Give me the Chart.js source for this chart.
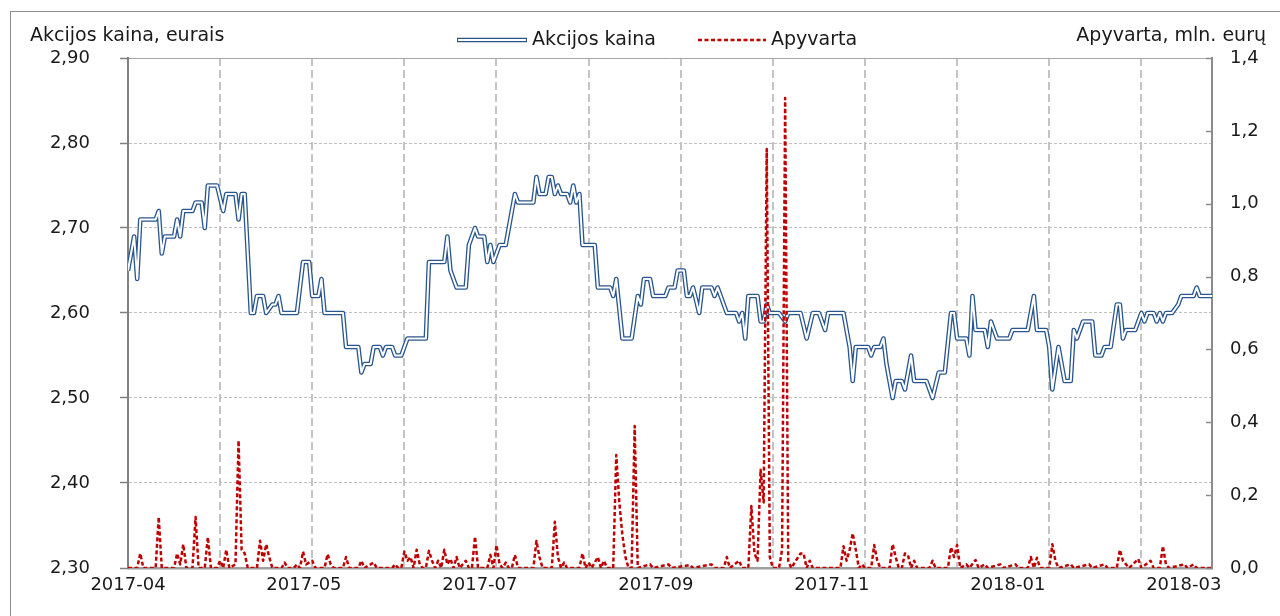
<!DOCTYPE html>
<html lang="lt">
<head>
<meta charset="utf-8">
<title>Akcijos kaina ir apyvarta</title>
<script src="https://cdn.jsdelivr.net/npm/chart.js@4.4.1/dist/chart.umd.min.js"></script>
<style>
  html, body { margin: 0; padding: 0; background: #fff; overflow: hidden; }
  #wrap { position: relative; width: 1280px; height: 616px; }
</style>
</head>
<body>
<div id="wrap"><canvas id="stockChart" width="1280" height="616"></canvas></div>
<script>
// Days since the start of the period (2017-04) and the closing price on that day
const priceDays = [
    0, 2, 3, 4, 9, 10, 11, 12, 15, 16,
    17, 18, 21, 22, 24, 25, 26, 29, 31, 32,
    35, 36, 37, 38, 40, 41, 42, 44, 45, 47,
    48, 49, 50, 55, 57, 59, 60, 62, 63, 64,
    70, 71, 75, 76, 77, 79, 80, 82, 83, 84,
    86, 87, 89, 91, 97, 98, 103, 104, 105, 107,
    110, 111, 112, 113, 114, 116, 117, 118, 119, 121,
    123, 124, 126, 127, 132, 133, 134, 136, 137, 138,
    139, 140, 141, 143, 144, 145, 146, 147, 148, 152,
    153, 157, 158, 159, 161, 164, 166, 167, 168, 170,
    171, 175, 176, 178, 179, 181, 182, 183, 184, 186,
    187, 190, 191, 192, 193, 195, 198, 199, 200, 201,
    202, 205, 206, 207, 208, 209, 212, 214, 215, 219,
    221, 223, 225, 227, 228, 233, 235, 236, 237, 241,
    242, 243, 245, 246, 247, 249, 250, 252, 253, 255,
    256, 260, 262, 264, 266, 268, 269, 270, 273, 274,
    275, 276, 279, 280, 281, 282, 283, 287, 288, 293,
    295, 296, 299, 300, 301, 303, 305, 307, 308, 309,
    311, 314, 315, 317, 318, 320, 322, 323, 324, 325,
    328, 330, 331, 332, 334, 335, 336, 337, 338, 340,
    342, 343, 347, 348, 349, 353
];
const priceValues = [
    2.65, 2.69, 2.64, 2.71, 2.71, 2.72, 2.67, 2.69, 2.69, 2.71,
    2.69, 2.72, 2.72, 2.73, 2.73, 2.70, 2.75, 2.75, 2.72, 2.74,
    2.74, 2.71, 2.74, 2.74, 2.60, 2.60, 2.62, 2.62, 2.60, 2.61,
    2.61, 2.62, 2.60, 2.60, 2.66, 2.66, 2.62, 2.62, 2.64, 2.60,
    2.60, 2.56, 2.56, 2.53, 2.54, 2.54, 2.56, 2.56, 2.55, 2.56,
    2.56, 2.55, 2.55, 2.57, 2.57, 2.66, 2.66, 2.69, 2.65, 2.63,
    2.63, 2.68, 2.69, 2.70, 2.69, 2.69, 2.66, 2.68, 2.66, 2.68,
    2.68, 2.70, 2.74, 2.73, 2.73, 2.76, 2.74, 2.74, 2.76, 2.76,
    2.74, 2.75, 2.74, 2.74, 2.73, 2.75, 2.73, 2.74, 2.68, 2.68,
    2.63, 2.63, 2.62, 2.64, 2.57, 2.57, 2.62, 2.61, 2.64, 2.64,
    2.62, 2.62, 2.63, 2.63, 2.65, 2.65, 2.62, 2.62, 2.63, 2.60,
    2.63, 2.63, 2.62, 2.63, 2.62, 2.60, 2.60, 2.59, 2.60, 2.57,
    2.62, 2.62, 2.59, 2.59, 2.61, 2.60, 2.60, 2.59, 2.60, 2.60,
    2.57, 2.60, 2.60, 2.58, 2.60, 2.60, 2.56, 2.52, 2.56, 2.56,
    2.55, 2.56, 2.56, 2.57, 2.54, 2.50, 2.52, 2.52, 2.51, 2.55,
    2.52, 2.52, 2.50, 2.53, 2.53, 2.60, 2.60, 2.57, 2.57, 2.55,
    2.62, 2.58, 2.58, 2.56, 2.59, 2.58, 2.57, 2.57, 2.58, 2.58,
    2.62, 2.58, 2.58, 2.56, 2.51, 2.56, 2.52, 2.52, 2.58, 2.57,
    2.59, 2.59, 2.55, 2.55, 2.56, 2.56, 2.61, 2.61, 2.57, 2.58,
    2.58, 2.60, 2.59, 2.60, 2.60, 2.59, 2.60, 2.59, 2.60, 2.60,
    2.61, 2.62, 2.62, 2.63, 2.62, 2.62
];

// Turnover (mln. EUR) by day
const volumeDays = [
    0, 3, 4, 5, 9, 10, 11, 15, 16, 17,
    18, 19, 21, 22, 23, 25, 26, 27, 29, 30,
    31, 32, 33, 35, 36, 37, 38, 39, 42, 43,
    44, 45, 46, 47, 50, 51, 52, 54, 55, 56,
    57, 58, 60, 61, 64, 65, 66, 67, 70, 71,
    72, 75, 76, 77, 80, 81, 86, 87, 88, 89,
    90, 91, 92, 93, 94, 95, 96, 97, 98, 99,
    100, 101, 102, 103, 104, 105, 106, 107, 108, 110,
    111, 112, 113, 114, 117, 118, 119, 120, 121, 122,
    123, 124, 125, 126, 127, 132, 133, 134, 135, 138,
    139, 140, 141, 142, 143, 147, 148, 149, 150, 151,
    153, 154, 155, 156, 158, 159, 160, 161, 162, 163,
    164, 165, 166, 170, 171, 176, 177, 183, 184, 190,
    191, 194, 195, 196, 199, 200, 202, 203, 204, 205,
    206, 207, 208, 209, 210, 212, 213, 214, 215, 216,
    219, 220, 221, 222, 223, 232, 233, 234, 235, 236,
    237, 238, 239, 240, 242, 243, 244, 245, 248, 249,
    250, 251, 252, 253, 254, 255, 256, 257, 261, 262,
    263, 267, 268, 269, 270, 271, 273, 274, 276, 277,
    279, 280, 284, 285, 289, 290, 293, 294, 295, 296,
    297, 300, 301, 302, 303, 307, 308, 313, 314, 318,
    319, 322, 323, 324, 325, 326, 329, 330, 333, 334,
    336, 337, 338, 339, 344, 345, 347, 348, 353
];
const volumeValues = [
    0, 0, 0.04, 0, 0, 0.14, 0, 0, 0.04, 0.01,
    0.065, 0, 0, 0.14, 0, 0, 0.085, 0, 0, 0.02,
    0, 0.05, 0, 0.01, 0.35, 0.05, 0.04, 0, 0, 0.075,
    0.02, 0.065, 0.03, 0, 0, 0.015, 0, 0, 0.01, 0,
    0.045, 0.01, 0.02, 0, 0, 0.038, 0.01, 0, 0, 0.03,
    0, 0, 0.02, 0, 0.015, 0, 0, 0.01, 0, 0,
    0.045, 0.02, 0.03, 0, 0.05, 0.01, 0, 0, 0.047, 0.02,
    0, 0.02, 0, 0.05, 0.01, 0.025, 0, 0.03, 0, 0.02,
    0, 0, 0.086, 0, 0, 0.036, 0, 0.063, 0.01, 0,
    0.015, 0, 0, 0.036, 0, 0, 0.074, 0.03, 0, 0,
    0.127, 0.03, 0, 0.015, 0, 0, 0.04, 0, 0.015, 0,
    0.03, 0, 0.02, 0, 0, 0.31, 0.18, 0.09, 0.03, 0,
    0, 0.39, 0, 0.01, 0, 0.01, 0, 0.008, 0, 0.01,
    0, 0, 0.03, 0, 0.02, 0, 0, 0.17, 0.04, 0.02,
    0.27, 0.18, 1.15, 0.03, 0, 0, 0.05, 1.29, 0.02, 0,
    0.04, 0.04, 0, 0.02, 0, 0, 0.06, 0.02, 0.05, 0.095,
    0.05, 0, 0.01, 0, 0, 0.063, 0.02, 0, 0, 0.065,
    0.03, 0, 0, 0.04, 0.035, 0, 0.02, 0, 0, 0.02,
    0, 0, 0.057, 0.03, 0.063, 0, 0.01, 0, 0.022, 0,
    0.01, 0, 0.01, 0, 0.01, 0, 0, 0.03, 0, 0.028,
    0, 0, 0.065, 0.02, 0, 0.01, 0, 0.01, 0, 0.01,
    0, 0, 0.05, 0.02, 0.01, 0, 0.025, 0, 0.02, 0,
    0, 0.06, 0.01, 0, 0.01, 0, 0.01, 0, 0
];

// Axes
const dayRange = [0, 353];
const gridDays = [30, 60, 90, 120, 150, 180, 210, 240, 270, 300, 330];
const labelDays = [0, 57.3, 114.6, 171.9, 229.2, 286.5, 343.8];
const xTickLabels = ['2017-04', '2017-05', '2017-07', '2017-09', '2017-11', '2018-01', '2018-03'];
const priceTicks = [2.3, 2.4, 2.5, 2.6, 2.7, 2.8, 2.9];
const volumeTicks = [0, 0.2, 0.4, 0.6, 0.8, 1.0, 1.2, 1.4];

const leftTitle = 'Akcijos kaina, eurais';
const rightTitle = 'Apyvarta, mln. eurų';
const priceLabel = 'Akcijos kaina';
const volumeLabel = 'Apyvarta';

const fontFamily = '"DejaVu Sans", Verdana, sans-serif';
const navy = '#2a568f';
const red = '#c00000';

Chart.defaults.font.family = fontFamily;
Chart.defaults.font.size = 18;
Chart.defaults.color = '#1a1a1a';

const toPoints = (days, values) => days.map((d, i) => ({ x: d, y: values[i] }));
const pricePoints = toPoints(priceDays, priceValues);
const allXTicks = [...gridDays, ...labelDays].sort((a, b) => a - b);

// Titles, legend, frame and the small inner ticks of the right axis
const decorPlugin = {
    id: 'decor',
    afterDraw(chart) {
        const c = chart.ctx;
        c.save();
        c.strokeStyle = '#8c8c8c';
        c.lineWidth = 1;
        c.strokeRect(10.5, 11.5, 1400, 800);

        c.font = '19px ' + fontFamily;
        c.fillStyle = '#1a1a1a';
        c.textBaseline = 'alphabetic';
        c.textAlign = 'left';
        c.fillText(leftTitle, 30, 41);
        c.textAlign = 'right';
        c.fillText(rightTitle, 1266, 41);

        // legend: double blue line
        c.lineCap = 'butt';
        c.strokeStyle = navy;
        c.lineWidth = 4.6;
        c.beginPath(); c.moveTo(457, 40); c.lineTo(527, 40); c.stroke();
        c.strokeStyle = '#ffffff';
        c.lineWidth = 2;
        c.beginPath(); c.moveTo(458, 40); c.lineTo(526, 40); c.stroke();
        // legend: dashed red line
        c.strokeStyle = red;
        c.lineWidth = 2.5;
        c.setLineDash([4, 2.5]);
        c.beginPath(); c.moveTo(698, 40); c.lineTo(766, 40); c.stroke();
        c.setLineDash([]);
        c.textAlign = 'left';
        c.fillText(priceLabel, 532, 45);
        c.fillText(volumeLabel, 771, 45);

        // right axis ticks point inwards
        const y1 = chart.scales.y1;
        c.strokeStyle = '#8c8c8c';
        c.lineWidth = 1.5;
        volumeTicks.forEach(v => {
            const py = Math.round(y1.getPixelForValue(v)) + 0.5;
            c.beginPath(); c.moveTo(y1.left - 6, py); c.lineTo(y1.left, py); c.stroke();
        });
        c.restore();
    }
};

const ctx = document.getElementById('stockChart').getContext('2d');
new Chart(ctx, {
    type: 'line',
    data: {
        datasets: [
            {
                label: volumeLabel,
                data: toPoints(volumeDays, volumeValues),
                yAxisID: 'y1',
                borderColor: red,
                borderWidth: 2.5,
                borderDash: [4, 2.5],
                borderJoinStyle: 'round',
                pointRadius: 0,
                tension: 0
            },
            {
                label: priceLabel,
                data: pricePoints,
                yAxisID: 'y',
                borderColor: '#ffffff',
                borderWidth: 2,
                borderJoinStyle: 'round',
                pointRadius: 0,
                tension: 0
            },
            {
                label: priceLabel,
                data: pricePoints,
                yAxisID: 'y',
                borderColor: navy,
                borderWidth: 4.6,
                borderJoinStyle: 'round',
                pointRadius: 0,
                tension: 0
            }
        ]
    },
    options: {
        responsive: false,
        animation: false,
        layout: { padding: { top: 58, left: 0, right: 0, bottom: 0 } },
        plugins: {
            legend: { display: false },
            tooltip: { enabled: false }
        },
        scales: {
            x: {
                type: 'linear',
                min: dayRange[0],
                max: dayRange[1],
                afterBuildTicks: scale => { scale.ticks = allXTicks.map(v => ({ value: v })); },
                afterFit: scale => { scale.height = 48; },
                ticks: {
                    autoSkip: false,
                    maxRotation: 0,
                    minRotation: 0,
                    padding: 7,
                    callback: value => {
                        const i = labelDays.indexOf(value);
                        return i >= 0 ? xTickLabels[i] : '';
                    }
                },
                grid: {
                    color: c => (c.tick && gridDays.includes(c.tick.value)) ? '#c4c4c4' : 'rgba(0,0,0,0)',
                    lineWidth: 2,
                    drawTicks: false
                },
                border: { color: '#a0a0a0', width: 2.5, dash: [8, 4] }
            },
            y: {
                position: 'left',
                min: 2.3,
                max: 2.9,
                afterBuildTicks: scale => { scale.ticks = priceTicks.map(v => ({ value: v })); },
                afterFit: scale => { scale.width = 128; },
                ticks: {
                    padding: 30,
                    callback: value => value.toFixed(2).replace('.', ',')
                },
                grid: {
                    color: c => (c.tick && c.tick.value === 2.9) ? '#a6a6a6' : '#c0c0c0',
                    lineWidth: 1,
                    tickLength: 8,
                    tickColor: '#808080',
                    tickWidth: 1.5
                },
                border: {
                    color: '#808080',
                    width: 2,
                    dash: c => (c.tick && c.tick.value === 2.9) ? [] : [3, 2]
                }
            },
            y1: {
                position: 'right',
                min: 0,
                max: 1.4,
                afterBuildTicks: scale => { scale.ticks = volumeTicks.map(v => ({ value: v })); },
                afterFit: scale => { scale.width = 68; },
                ticks: {
                    padding: 18,
                    callback: value => value.toFixed(1).replace('.', ',')
                },
                grid: { drawOnChartArea: false, drawTicks: false },
                border: { color: '#8c8c8c', width: 2 }
            }
        }
    },
    plugins: [decorPlugin]
});
</script>
</body>
</html>
